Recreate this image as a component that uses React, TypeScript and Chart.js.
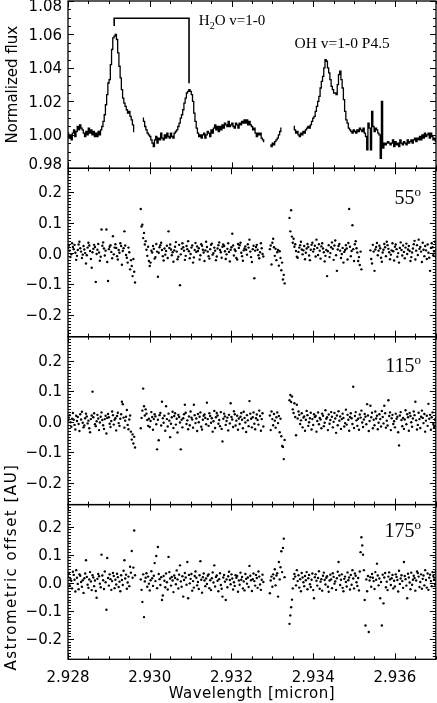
import React, { useEffect, useRef } from 'react';
import { Chart, registerables } from 'chart.js';

Chart.register(...registerables);

// ---------------- data ----------------
// Spectrum sampling grid (micron): 301 pixels from 2.928 to 2.937
const FLUX_WAVE_START = 2.928;
const FLUX_WAVE_STEP = 0.00003;
const FLUX_WAVELENGTH: number[] = Array.from({ length: 301 }, (_, i) => +(FLUX_WAVE_START + i * FLUX_WAVE_STEP).toFixed(5));

// Astrometry sampling grid (micron): 451 pixels from 2.928 to 2.937
const ASTRO_WAVE_START = 2.928;
const ASTRO_WAVE_STEP = 0.00002;
const ASTRO_WAVELENGTH: number[] = Array.from({ length: 451 }, (_, i) => +(ASTRO_WAVE_START + i * ASTRO_WAVE_STEP).toFixed(5));

// Normalized flux, in units of 0.001 (1000 = 1.000); null = no data
const FLUX_PERMILLE: (number | null)[] = [
  1001, 998, 1000, 997, 1001, 1003, 999, 1002, 1005, 1003,
  1006, 1004, 1003, 1001, 999, 1002, 1000, 1004, 1001, 1003,
  1000, 1002, 999, 1001, 999, 1002, 1000, 1003, 1005, 1008,
  1012, 1018, 1024, 1031, 1033, 1042, 1051, 1058, 1059, 1060,
  1057, 1049, 1041, 1034, 1027, 1022, 1019, 1017, 1015, 1013,
  1014, 1011, 1009, 1006, 1002,
  null, null, null, null, null, null,
  1010, 1008, 1005, 1003, 1001, 1000, 999, 997, 995, 993,
  997, 999, 995, 998, 997, 1001, 998, 997, 1000, 998,
  1001, 999, 998, 1001, 999, 998, 1001, 1002, 1003, 1005,
  1007, 1010, 1012, 1015, 1019, 1022, 1025, 1026, 1027, 1026,
  1024, 1020, 1013, 1008, 1004, 1001, 999, 1000, 998, 1000,
  1001, 998, 1000, 1002, 1001, 999, 1003, 1001, 1004, 1006,
  1003, 1005, 1002, 1005, 1003, 1006, 1004, 1007, 1006, 1005,
  1008, 1005, 1006, 1007, 1005, 1004, 1007, 1006, 1004, 1007,
  1006, 1008, 1007, 1009, 1007, 1009, 1006, 1008, 1006, 1005,
  1003, 1004, 1001, 999, 1001, 1000, 1001, 998, 997, 996,
  null, null, null, null,
  994, 993, 995, 994, 996, 997, 998, 1000, 1002, 1004,
  null, null, null, null, null, null, null, null, null,
  1005, 1003, 1001, 1002, 1000, 999, 1001, 1000, 1002, 1001,
  1003, 1004, 1005, 1004, 1006, 1008, 1010, 1011, 1014, 1017,
  1020, 1023, 1028, 1032, 1035, 1040, 1045, 1044, 1040, 1037,
  1033, 1029, 1027, 1025, 1025, 1024, 1030, 1036, 1038, 1033,
  1028, 1021, 1014, 1009, 1007, 1004, 1003, 1002, 1001, 1003,
  1002, 1001, 1003, 1002, 1004, 1003, 1002, 1004, 1001, 999,
  991, 1007, 1004, 991, 1014, 1005, 1002, 1004, 1003, 1001,
  1000, 986, 1020, 992, 995, 994, 995, 996, 995, 994,
  995, 997, 993, 996, 994, 995, 993, 997, 995, 994,
  996, 995, 994, 997, 995, 996, 997, 995, 997, 998,
  996, 998, 997, 999, 997, 1000, 998, 1001, 999, 1000,
  1001, 998, 1001, 999, 997, 998, 996,
];

// Astrometric offsets in milli-AU on the astrometry grid; null = no data
const OFFSET_55_MAU: (number | null)[] = [
  18, 26, 9, -12, -3, 33, 21, 14, 28, 2,
  -21, -8, 11, 29, 38, 17, 6, -15, -4, 24,
  13, 1, -33, -6, 19, 35, 26, 8, -18, -47,
  4, 15, 28, 21, -93, -2, 12, 31, 3, -24,
  -11, 78, 25, 36, 16, -7, 9, 78, -28, -90,
  14, 22, 27, 5, -16, 56, -3, 19, 30, 18,
  -9, -20, 11, 2, 33, 24, -37, 8, 17, 72,
  26, -5, -14, -30, 19, 4, -52, -22, -41, -74,
  -18, -60, -95,
  null, null, null, null, null, null,
  145, 88, 94, 50, 67, 29, 40, 12, -8, 22, -25,
  -41, -30, 9, 3, 24, 15, -17, -12, 31, 6,
  -76, 2, 20, 27, 35, 11, -9, -23, 16, -4,
  8, 25, -15, 72, 18, 29, 13, -6, 4, -27,
  10, 22, 37, 6, -19, -11, 28, -104, -3, 15,
  33, 20, 9, -21, -8, 24, 14, 40, 7, -16,
  -2, 19, 26, -30, -13, 11, 34, 5, 23, 8,
  17, -20, -6, 30, 25, 12, 3, -25, 10, 38,
  21, 6, -9, -17, 14, 28, 32, -4, 1, 19,
  9, -22, -10, 16, 27, 36, 11, 4, -14, 22,
  29, 24, 7, -18, -3, 15, 33, 5, -26, 12,
  20, 64, 26, -7, 13, 8, -15, -20, 31, 18,
  27, 35, 2, -9, -24, 10, 16, 23, 12, -4,
  30, 19, 45, 6, -12, -28, 14, 25, -81, 9,
  21, 28, 12, -6, -16, 4, 33, 17, -2, -10,
  null, null, null, null, null, null, null,
  14, 26, -36, 35, 48, 20, -8, 15, -22, 4, 11, -40, 7, -15, -55, -30, -85, -70, -98,
  null, null, null, null, null,
  116, 72, 141, 55, 35, 48, 22, 30, 8, -11,
  -14, 5, 19, 27, 38, 13, -3, 10, 24, -19,
  2, 16, 31, 21, -7, -22, 12, 28, 35, 6,
  14, 25, -10, 45, 18, -5, 30, 9, -17, 23,
  33, 16, 4, -26, -8, 11, -74, 7, 27, -12,
  1, 20, 36, 15, -21, 26, 42, -6, -57, 13,
  24, 31, 9, -15, -2, 18, -30, 5, 11, 27,
  16, -20, 34, 145, 22, -9, 8, 92, 14, -25,
  30, 40, 17, 3, -25, -12, -38, 6, -52,
  null, null, null, null, null, null, null, null, null, null,
  10, -18, -33, 28, 6, -57, 13, 21, 34, -6,
  9, 25, 17, -14, -27, 3, 12, 31, 20, -9,
  38, 27, 15, 4, -19, -4, 10, 33, 7, -23,
  22, 29, 14, -11, 1, -30, 18, 36, 11, -7,
  26, 5, -16, 19, 32, -2, 13, 24, 8, -25,
  -12, 3, 16, 30, 41, -20, 9, 27, -5, 45,
  15, 21, 6, -28, 35, 12, -9, 24, 10, -18,
  29, 2, -14, -57, 18, 33, 20, -6, 7, 38, -11,
];

const OFFSET_115_MAU: (number | null)[] = [
  4, 13, 21, -2, -17, 9, 28, 6, -11, -26,
  19, 2, 15, -8, -31, 24, 7, 32, -4, -19,
  -13, 11, 26, 17, -6, 3, -22, -35, 8, 20,
  98, 14, 27, -9, -15, 1, 22, 10, -28, -3,
  16, 30, 5, -12, -24, 8, 19, -39, 12, 25,
  14, -7, -18, 2, 33, 21, -10, 6, 11, -29,
  18, 29, -5, -14, 9, 24, 65, 57, 13, -20,
  3, 16, 38, -11, -25, 7, 20, -33, -59, -42,
  -72, -50, -85,
  null, null, null, null, null, null,
  -22, 12, 36, 108, 50, 20, 40, 26, 5, -14, 9,
  -18, 2, 31, 15, -27, 8, 24, 17, -9, -91,
  6, -61, 21, 28, -13, 65, 11, -4, 19, -30,
  50, 8, -16, 26, 3, -51, -7, 14, 32, -21,
  18, 27, -10, 9, -36, 22, 15, -3, -91, 6,
  -19, 11, 24, 55, 29, -8, 4, -25, 17, -12,
  33, 13, 7, -20, 55, 21, -5, 10, -31, 25,
  -2, 16, 30, -17, -26, 6, 19, 23, 12, -9,
  62, 8, -14, 27, 18, -4, 11, -33, 1, 35,
  -21, 14, 28, 20, -7, 5, -15, 31, -24, -65,
  9, 26, 17, -11, 2, 13, -29, 22, -6, 60,
  15, 7, -18, 34, 24, -13, 3, 19, -27, 10,
  -8, 16, 28, 6, -22, 32, 12, -3, -34, 21,
  4, -15, 67, 26, 9, -19, 14, 30, -7, -25,
  11, 23, 5, -10, 36, 18, -30, 8, 27, -16,
  null, null, null, null, null, null, null,
  20, -28, 33, 8, -12, 25, 3, -20, 14, 30, -5, 18, -35, 9, -48, -80, -83, -123, -60,
  null, null, null, null, null,
  70, 87, 64, 82, 40, 28, 60, 15, -45, 55,
  10, 33, 22, -8, 4, 27, -19, 13, 17, -30,
  6, 35, 21, -14, -2, 11, 29, -26, 8, -11,
  24, 15, 18, -33, 2, 30, -9, 12, 7, -22,
  26, 19, -15, -4, 37, 9, 14, -28, 23, -7,
  5, 31, 16, -19, -1, 28, 10, -37, 20, -12,
  34, 3, 17, -24, 8, 26, 12, -16, -5, 39,
  -10, 22, 6, -30, 15, 27, 11, -8, 114, -21,
  18, 31, 4, -14, 9, -27, 23, 13, 36, -3,
  -18, 7, 25, 16, -9, 57, 20, -31, 2, 52,
  14, 29, -22, 6, -12, 33, 10, 19, -25, -4,
  24, 8, -16, 35, 15, -6, 52, 27, -20, 3,
  -13, 70, 18, 30, -28, 11, 22, -8, 1, -19,
  26, 9, 16, -35, -78, 20, 31, 5, -15, 12,
  -24, 7, 37, -9, 24, 14, -30, 28, 18, -2,
  -17, 10, 33, 21, 65, 4, -26, -11, 29, 8,
  -21, 16, 36, 12, -5, 25, -33, 3, 19, -14,
  58, 9, 22, -27, 14, 30, -8, -18, 6, 11,
];

const OFFSET_175_MAU: (number | null)[] = [
  22, 35, -9, 14, 7, -20, 39, 28, 11, -31,
  45, 18, -4, -23, 30, 25, 3, -14, 9, -36,
  16, 33, 80, 21, -7, -18, 12, 38, 5, -26,
  27, 19, -12, 8, -29, -53, 14, 31, 23, -3,
  -16, 100, 26, 9, -22, 40, 2, -96, 88, 17,
  -10, 30, 13, -25, 6, 35, 24, -19, 11, -6,
  32, 20, -15, 4, -30, 27, 10, -8, 43, 80,
  15, 29, -21, 1, 22, -12, 57, 36, 113, 18,
  54, 186, 27,
  null, null, null, null, null, null,
  12, -25, -68, 30, -122, 5, 18, 34, -14, 22, -3,
  -27, 9, 41, 16, -11, 25, 70, 6, 95, -19,
  127, 31, 13, -8, 20, -61, -45, 24, 7, -16,
  33, 2, -24, 92, 38, 15, -10, 21, 8, -33,
  26, 17, -5, 44, 12, -20, 29, 62, 5, -14,
  23, -49, 10, 35, 19, -7, 74, -55, 28, -2,
  14, 31, -28, 6, -17, 24, 40, 18, -9, 3,
  -22, 27, 77, 11, -35, 20, 33, 8, -12, 15,
  -4, 25, 30, -19, 9, -26, 16, 37, 1, 62,
  -13, 21, 26, 7, -30, 13, 34, -8, -21, -49,
  19, 28, 4, -61, 12, -16, 23, 39, 10, -5,
  30, 15, -24, 2, -11, 27, 18, 24, -32, 8,
  -7, 36, 11, 21, -20, 5, -27, 31, 14, -3,
  19, -15, 60, 25, 9, -29, 13, 33, 6, -10,
  28, 17, -18, 40, 22, -6, -25, 11, 29, 3,
  null, null, null, null, null, null, null,
  -37, 8, 22, -14, 30, 15, 48, -9, 26, 34, -49, 74, 12, 55, 112, 38, 124, 157, 20,
  null, null, null, null, null,
  -146, -116, -87, -60, -20, 14, 31, 22, -9, 45,
  6, 27, -17, 13, -30, 35, 19, 2, -12, 24,
  9, 38, -23, 16, 28, -5, -15, 11, 33, -26,
  -55, 20, 30, 7, -10, 17, 41, -21, 4, 13,
  -28, 25, 36, 10, -6, 18, 23, -14, -32, 8,
  29, 12, -19, 34, 21, -3, 5, -25, 16, 39,
  74, 26, -8, 11, 30, -18, -30, 14, 22, 3,
  -13, 37, 9, 19, -24, 28, -7, 45, 15, -20,
  33, 25, 2, -11, 17, -27, 40, 109, 162, 133,
  100, 45, -61, -152, 12, -30, 24, -175, 8, 20,
  -14, 31, 18, 6, -22, 38, 11, 68, 26, -9,
  15, -55, 3, -152, 29, -73, 19, 35, -16, 4,
  -26, 22, 37, 12, -8, 16, 28, -20, 7, -13,
  30, 21, 10, -31, 43, -4, 15, 27, 6, -18,
  74, 24, 13, -10, -55, 32, 19, 1, -23, 36,
  -7, 11, 25, 17, -28, 8, 40, 35, 22, -15,
  3, 30, -21, 14, 26, -9, 45, 10, -17, 33,
  -25, 18, 29, 6, -12, 38, 24, 12, -6, 41,
];

// axis ticks
const X_MIN = 2.928;
const X_MAX = 2.937;
const X_TICKS = [2.928, 2.93, 2.932, 2.934, 2.936];
const X_MINOR_STEP = 0.0005;
const FLUX_TICKS = [0.98, 1.0, 1.02, 1.04, 1.06, 1.08];
const OFFSET_TICKS = [-0.2, -0.1, 0.0, 0.1, 0.2];

// annotation text
const X_TITLE = 'Wavelength [micron]';
const FLUX_TITLE = 'Normalized flux';
const OFFSET_TITLE = 'Astrometric offset [AU]';
const H2O_LABEL = ['H', '2', 'O v=1-0'];
const OH_LABEL = 'OH v=1-0 P4.5';
const ANGLES = ['55', '115', '175'];

// annotation anchors (data coordinates)
const BRACKET = { x1: 2.92913, x2: 2.93096, yTop: 1.0697, y1: 1.065, y2: 1.0308 };
const H2O_POS = { x: 2.9312, y: 1.0657 };
const OH_POS = { x: 2.93354, y: 1.0517 };
const ANGLE_POS = { x: 2.93664, y: 0.163 };

// ---------------- layout / style ----------------
const W = 437;
const H = 703;
const INK = '#000';
const AXIS_FONT = '15px "DejaVu Sans"';
const SERIF = '"Liberation Serif"';
const MAJOR_LEN = 6;
const MINOR_LEN = 3;

type Panel = {
  id: string;
  top: number;
  bottom: number;
  yMin: number;
  yMax: number;
  yTicks: number[];
  yMinor: number;
  decimals: number;
  kind: 'line' | 'scatter';
  grid: number[];
  series: (number | null)[];
  angle?: string;
  bottomAxis?: boolean;
};

const PANELS: Panel[] = [
  { id: 'flux', top: 1, bottom: 168.3, yMin: 0.98, yMax: 1.08, yTicks: FLUX_TICKS, yMinor: 0.005, decimals: 2, kind: 'line', grid: FLUX_WAVELENGTH, series: FLUX_PERMILLE },
  { id: 'p55', top: 168.3, bottom: 336.7, yMin: -0.272, yMax: 0.278, yTicks: OFFSET_TICKS, yMinor: 0.01, decimals: 1, kind: 'scatter', grid: ASTRO_WAVELENGTH, series: OFFSET_55_MAU, angle: ANGLES[0] },
  { id: 'p115', top: 336.7, bottom: 504.6, yMin: -0.272, yMax: 0.278, yTicks: OFFSET_TICKS, yMinor: 0.01, decimals: 1, kind: 'scatter', grid: ASTRO_WAVELENGTH, series: OFFSET_115_MAU, angle: ANGLES[1] },
  { id: 'p175', top: 504.6, bottom: 659.3, yMin: -0.272, yMax: 0.278, yTicks: OFFSET_TICKS, yMinor: 0.01, decimals: 1, kind: 'scatter', grid: ASTRO_WAVELENGTH, series: OFFSET_175_MAU, angle: ANGLES[2], bottomAxis: true },
];

function fmt(v: number, d: number) {
  if (Math.abs(v) < 1e-9) v = 0;
  return v.toFixed(d).replace('-', '\u2212');
}

function drawRotated(ctx: CanvasRenderingContext2D, text: string, x: number, y: number, spacing: number) {
  ctx.save();
  ctx.translate(x, y);
  ctx.rotate(-Math.PI / 2);
  ctx.font = AXIS_FONT;
  (ctx as any).letterSpacing = spacing + 'px';
  ctx.textAlign = 'center';
  ctx.textBaseline = 'alphabetic';
  ctx.fillText(text, 0, 0);
  ctx.restore();
}

function makeFramePlugin(p: Panel) {
  return {
    id: 'frame_' + p.id,
    afterDraw(chart: any) {
      const ctx: CanvasRenderingContext2D = chart.ctx;
      const { left, right, top, bottom } = chart.chartArea;
      const xs = chart.scales.x;
      const ys = chart.scales.y;
      ctx.save();
      ctx.strokeStyle = INK;
      ctx.fillStyle = INK;

      // inward ticks on all four sides
      ctx.lineWidth = 1;
      ctx.beginPath();
      const nx = Math.round((X_MAX - X_MIN) / X_MINOR_STEP);
      for (let k = 0; k <= nx; k++) {
        const v = X_MIN + k * X_MINOR_STEP;
        const major = X_TICKS.some((t) => Math.abs(t - v) < 1e-7);
        const len = major ? MAJOR_LEN : MINOR_LEN;
        const px = Math.round(xs.getPixelForValue(v)) + 0.5;
        ctx.moveTo(px, bottom);
        ctx.lineTo(px, bottom - len);
        ctx.moveTo(px, top);
        ctx.lineTo(px, top + len);
      }
      const k0 = Math.ceil(p.yMin / p.yMinor - 1e-6);
      const k1 = Math.floor(p.yMax / p.yMinor + 1e-6);
      for (let k = k0; k <= k1; k++) {
        const v = k * p.yMinor;
        const major = p.yTicks.some((t) => Math.abs(t - v) < 1e-7);
        const len = major ? MAJOR_LEN : MINOR_LEN;
        const py = Math.round(ys.getPixelForValue(v)) + 0.5;
        ctx.moveTo(left, py);
        ctx.lineTo(left + len, py);
        ctx.moveTo(right, py);
        ctx.lineTo(right - len, py);
      }
      ctx.stroke();

      // frame
      ctx.lineWidth = 1.3;
      ctx.strokeRect(left, top, right - left, bottom - top);

      // y tick labels
      ctx.font = AXIS_FONT;
      ctx.textAlign = 'right';
      ctx.textBaseline = 'alphabetic';
      for (const t of p.yTicks) {
        let py = ys.getPixelForValue(t);
        py = Math.min(Math.max(py, top + 5), bottom - 5);
        ctx.fillText(fmt(t, p.decimals), left - 6, py + 5.3);
      }

      // bottom axis labels + titles
      if (p.bottomAxis) {
        ctx.textAlign = 'center';
        for (const t of X_TICKS) {
          ctx.fillText(t.toFixed(3), xs.getPixelForValue(t), bottom + 22.5);
        }
        ctx.save();
        (ctx as any).letterSpacing = '0.5px';
        ctx.fillText(X_TITLE, (left + right) / 2, bottom + 38.5);
        ctx.restore();
        drawRotated(ctx, OFFSET_TITLE, 16, 567, 1.5);
      }

      if (p.id === 'flux') {
        drawRotated(ctx, FLUX_TITLE, 16.5, (top + bottom) / 2, 0);
        ctx.lineWidth = 1.6;
        ctx.beginPath();
        const bx1 = xs.getPixelForValue(BRACKET.x1);
        const bx2 = xs.getPixelForValue(BRACKET.x2);
        const byT = ys.getPixelForValue(BRACKET.yTop);
        ctx.moveTo(bx1, ys.getPixelForValue(BRACKET.y1));
        ctx.lineTo(bx1, byT);
        ctx.lineTo(bx2, byT);
        ctx.lineTo(bx2, ys.getPixelForValue(BRACKET.y2));
        ctx.stroke();
        let hx = xs.getPixelForValue(H2O_POS.x);
        const hy = ys.getPixelForValue(H2O_POS.y);
        ctx.textAlign = 'left';
        ctx.font = '15px ' + SERIF;
        ctx.fillText(H2O_LABEL[0], hx, hy);
        hx += ctx.measureText(H2O_LABEL[0]).width;
        ctx.font = '10px ' + SERIF;
        ctx.fillText(H2O_LABEL[1], hx, hy + 4);
        hx += ctx.measureText(H2O_LABEL[1]).width;
        ctx.font = '15px ' + SERIF;
        ctx.fillText(H2O_LABEL[2], hx, hy);
        ctx.font = '15.5px ' + SERIF;
        ctx.fillText(OH_LABEL, xs.getPixelForValue(OH_POS.x), ys.getPixelForValue(OH_POS.y));
      }

      if (p.angle) {
        const ax = xs.getPixelForValue(ANGLE_POS.x);
        const ay = ys.getPixelForValue(ANGLE_POS.y);
        ctx.font = '13px ' + SERIF;
        const ow = ctx.measureText('o').width;
        ctx.textAlign = 'left';
        ctx.fillText('o', ax - ow, ay - 7.5);
        ctx.font = '20px ' + SERIF;
        ctx.textAlign = 'right';
        ctx.fillText(p.angle, ax - ow, ay);
      }
      ctx.restore();
    },
  };
}

function buildConfig(p: Panel): any {
  const isLine = p.kind === 'line';
  const points = p.grid.map((x, i) => {
    const v = p.series[i];
    return { x, y: v === null || v === undefined ? null : v / 1000 };
  });
  const dataset = isLine
    ? {
        data: points,
        borderColor: INK,
        borderWidth: 1.3,
        pointRadius: 0,
        stepped: 'middle',
        spanGaps: false,
        fill: false,
      }
    : {
        data: points.filter((pt) => pt.y !== null),
        backgroundColor: INK,
        borderWidth: 0,
        pointRadius: 1.2,
        pointHoverRadius: 1.2,
      };
  return {
    type: isLine ? 'line' : 'scatter',
    data: { datasets: [dataset] },
    options: {
      responsive: false,
      animation: false,
      devicePixelRatio: 1,
      events: [],
      layout: { padding: { left: 68, right: 1, top: p.top, bottom: H - p.bottom } },
      plugins: { legend: { display: false }, tooltip: { enabled: false }, title: { display: false } },
      scales: {
        x: { type: 'linear', display: false, min: X_MIN, max: X_MAX },
        y: { type: 'linear', display: false, min: p.yMin, max: p.yMax },
      },
    },
    plugins: [makeFramePlugin(p)],
  };
}

function PanelChart({ panel }: { panel: Panel }) {
  const ref = useRef<HTMLCanvasElement>(null);
  useEffect(() => {
    if (!ref.current) return;
    const chart = new Chart(ref.current, buildConfig(panel));
    return () => chart.destroy();
  }, [panel]);
  return (
    <canvas
      ref={ref}
      width={W}
      height={H}
      style={{ position: 'absolute', left: 0, top: 0, width: W, height: H }}
    />
  );
}

export default function App() {
  return (
    <div style={{ position: 'absolute', left: 0, top: 0, width: W, height: H, background: '#fff' }}>
      {PANELS.map((p) => (
        <PanelChart key={p.id} panel={p} />
      ))}
    </div>
  );
}
